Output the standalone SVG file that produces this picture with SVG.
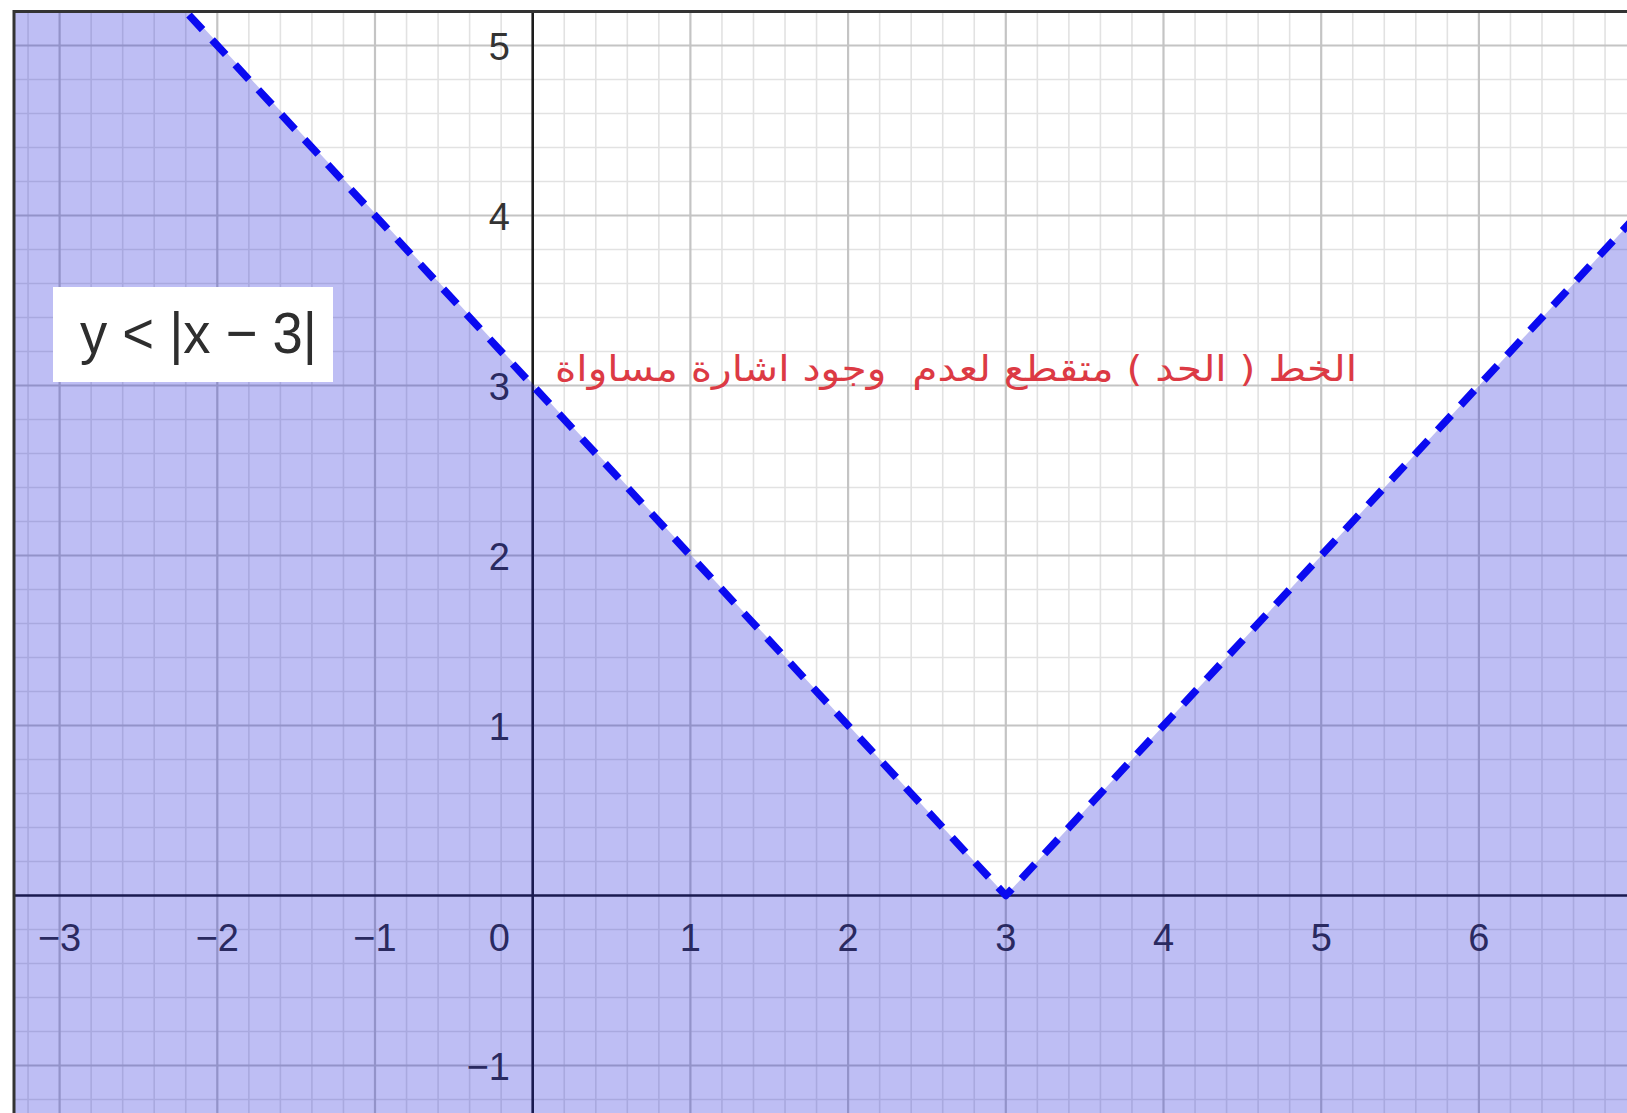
<svg xmlns="http://www.w3.org/2000/svg" width="1627" height="1113" viewBox="0 0 1627 1113">
<style>
.minor{fill:none;stroke:#e2e2e2;stroke-width:1.6}
.major{fill:none;stroke:#c4c4c4;stroke-width:2.2}
.axis{fill:none;stroke:#1c1c1c;stroke-width:2.6}
.frame{fill:none;stroke:#333;stroke-width:3}
.tick{font-family:"Liberation Sans",Arial,sans-serif;font-size:38px;fill:#333}
.tx{text-anchor:middle}
.ty{text-anchor:end}
.shade{fill:#1414d7;fill-opacity:0.28;stroke:none}
.bound{fill:none;stroke:#0a0af0;stroke-width:7.5;stroke-dasharray:20 14;stroke-linejoin:round}
.formula{font-family:"Liberation Sans",Arial,sans-serif;font-size:58px;fill:#2e2e2e}
.note{font-family:"DejaVu Sans","Noto Sans",sans-serif;font-size:36px;fill:#dc3a44;white-space:pre}
</style>
<defs>
<clipPath id="plot"><rect x="14" y="11.5" width="1613" height="1101.5"/></clipPath>
</defs>
<rect x="0" y="0" width="1627" height="1113" fill="#fff"/>
<g id="plot-area" clip-path="url(#plot)">
<g id="grid">
<path class="minor" d="M28.06 11V1113M91.14 11V1113M122.68 11V1113M154.22 11V1113M185.76 11V1113M248.84 11V1113M280.38 11V1113M311.92 11V1113M343.46 11V1113M406.54 11V1113M438.08 11V1113M469.62 11V1113M501.16 11V1113M564.24 11V1113M595.78 11V1113M627.32 11V1113M658.86 11V1113M721.94 11V1113M753.48 11V1113M785.02 11V1113M816.56 11V1113M879.64 11V1113M911.18 11V1113M942.72 11V1113M974.26 11V1113M1037.34 11V1113M1068.88 11V1113M1100.42 11V1113M1131.96 11V1113M1195.04 11V1113M1226.58 11V1113M1258.12 11V1113M1289.66 11V1113M1352.74 11V1113M1384.28 11V1113M1415.82 11V1113M1447.36 11V1113M1510.44 11V1113M1541.98 11V1113M1573.52 11V1113M1605.06 11V1113M14 1099.5H1627M14 1031.5H1627M14 997.5H1627M14 963.5H1627M14 929.5H1627M14 861.5H1627M14 827.5H1627M14 793.5H1627M14 759.5H1627M14 691.5H1627M14 657.5H1627M14 623.5H1627M14 589.5H1627M14 521.5H1627M14 487.5H1627M14 453.5H1627M14 419.5H1627M14 351.5H1627M14 317.5H1627M14 283.5H1627M14 249.5H1627M14 181.5H1627M14 147.5H1627M14 113.5H1627M14 79.5H1627"/>
<path class="major" d="M59.6 11V1113M217.3 11V1113M375 11V1113M690.4 11V1113M848.1 11V1113M1005.8 11V1113M1163.5 11V1113M1321.2 11V1113M1478.9 11V1113M14 1065.5H1627M14 725.5H1627M14 555.5H1627M14 385.5H1627M14 215.5H1627M14 45.5H1627"/>
</g>
<g id="axes">
<path class="axis" d="M532.7 11V1113M14 895.5H1627"/>
</g>
<g id="tick-labels">
<text class="tick tx" x="59.6" y="951">−3</text>
<text class="tick tx" x="217.3" y="951">−2</text>
<text class="tick tx" x="375" y="951">−1</text>
<text class="tick ty" x="510" y="951">0</text>
<text class="tick tx" x="690.4" y="951">1</text>
<text class="tick tx" x="848.1" y="951">2</text>
<text class="tick tx" x="1005.8" y="951">3</text>
<text class="tick tx" x="1163.5" y="951">4</text>
<text class="tick tx" x="1321.2" y="951">5</text>
<text class="tick tx" x="1478.9" y="951">6</text>
<text class="tick ty" x="510" y="59.5">5</text>
<text class="tick ty" x="510" y="229.5">4</text>
<text class="tick ty" x="510" y="399.5">3</text>
<text class="tick ty" x="510" y="569.5">2</text>
<text class="tick ty" x="510" y="739.5">1</text>
<text class="tick ty" x="510" y="1079.5">−1</text>
</g>
<g id="solution-region">
<polygon class="shade" points="10,8 185.3,8 1005.8,895.5 1630,223 1630,1116 10,1116"/>
</g>
<g id="boundary">
<path class="bound" style="stroke-dashoffset:24.5" d="M182.5 8L1005.8 895.5L1630 222.6"/>
</g>
</g>
<g id="frame">
<path class="frame" d="M14 10V1113M12.5 11.5H1627"/>
</g>
<g id="formula-box">
<rect x="53" y="287" width="280" height="95" fill="#fff"/>
<text class="formula" x="80" y="353" textLength="237" lengthAdjust="spacingAndGlyphs">y &lt; |x − 3|</text>
</g>
<g id="annotation">
<text class="note" x="555" y="381" textLength="802" lengthAdjust="spacingAndGlyphs">الخط ( الحد ) متقطع لعدم  وجود اشارة مساواة</text>
</g>
</svg>
